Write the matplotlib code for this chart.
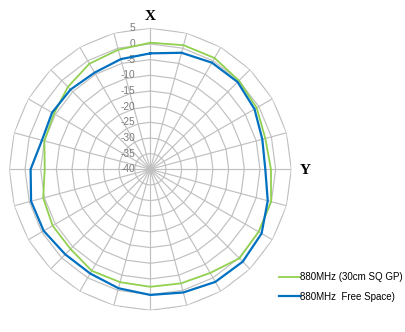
import numpy as np
import matplotlib
matplotlib.use("Agg")
import matplotlib.pyplot as plt
from matplotlib.transforms import offset_copy

# angle (deg, clockwise from X axis) and gain (dB)
angles = np.arange(0, 360, 15)
gain_gp = [0.4, 1.0, 1.0, 0.0, -0.8, -2.0, -1.5, -0.1, -0.1, 0.2, -1.8, -2.3,
           -2.5, -2.7, -2.6, -4.0, -4.0, -4.6, -6.3, -5.0, -4.5, -2.8, -1.1, -0.5]
gain_free = [-3.0, -1.5, -0.7, -0.6, -1.6, -3.0, -3.3, -1.2, 1.0, 1.7, 1.5, 0.7,
             0.1, -0.7, -1.6, -1.6, -0.7, -0.6, -1.8, -4.2, -3.8, -4.0, -4.4, -3.6]
label_gp = "880MHz (30cm SQ GP)"
label_free = "880MHz  Free Space)"
ring_values = list(range(-40, 10, 5))

plt.rcParams['font.family'] = ['Liberation Sans', 'DejaVu Sans']

fig = plt.figure(figsize=(4.05, 3.32), dpi=100)
ax = fig.add_axes([0.023, 0.0654, 0.6963, 0.8494], projection='polar')
ax.set_theta_zero_location('N')
ax.set_theta_direction(-1)
ax.set_ylim(-40, 5)
ax.grid(False)
ax.spines['polar'].set_visible(False)
ax.set_xticks([])
ax.set_yticks([])

theta = np.deg2rad(angles)
theta_c = np.append(theta, theta[0])

# polygon grid
grid_col = '#c0c0c0'
for rv in ring_values[1:]:
    ax.plot(theta_c, [rv] * len(theta_c), color=grid_col, lw=0.85, zorder=1)
for t in theta:
    ax.plot([t, t], [-40, 5], color=grid_col, lw=0.85, zorder=1)

# ring labels
tr = offset_copy(ax.transData, fig=fig, x=-15, y=0, units='dots')
for rv in ring_values:
    ax.text(0, rv, str(rv), transform=tr, ha='right', va='center',
            fontsize=7.3, color='#7a7a7a', zorder=2)

ax.plot(theta_c, np.append(gain_gp, gain_gp[0]), color='#92d050', lw=1.3,
        label=label_gp, zorder=3)
ax.plot(theta_c, np.append(gain_free, gain_free[0]), color='#0070c0', lw=1.6,
        label=label_free, zorder=4)

fig.text(150 / 405, 1 - 17 / 332, 'X', ha='center', va='center',
         fontsize=11, fontweight='bold', family='Liberation Serif')
fig.text(305 / 405, 1 - 171 / 332, 'Y', ha='center', va='center',
         fontsize=11, fontweight='bold', family='Liberation Serif')

fig.legend(loc='upper left', bbox_to_anchor=(279 / 405, 1 - 272 / 332),
           frameon=False, fontsize=7, handlelength=2.15, handletextpad=0.05,
           labelspacing=1.0, borderpad=0, borderaxespad=0)

fig.savefig('out.png', dpi=100)
